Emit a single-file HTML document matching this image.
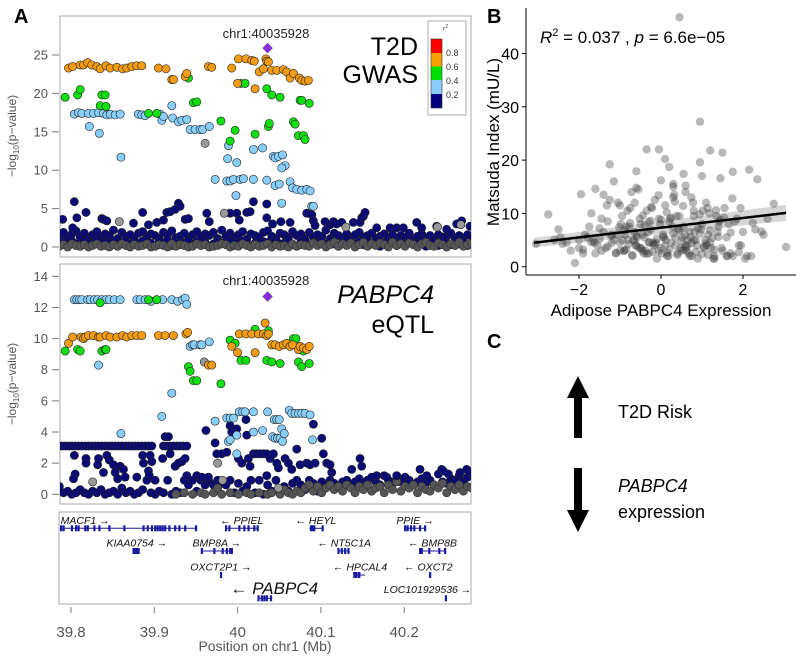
<!DOCTYPE html>
<html><head><meta charset="utf-8">
<style>
html,body{margin:0;padding:0;background:#fff;}
svg{display:block;font-family:"Liberation Sans",Arial,sans-serif;}
</style></head>
<body>
<svg id="fig" width="800" height="656" viewBox="0 0 800 656" xmlns="http://www.w3.org/2000/svg">
<defs>
<clipPath id="clipTop"><rect x="60" y="16" width="411" height="241"/></clipPath>
<clipPath id="clipMid"><rect x="60" y="264" width="411" height="240"/></clipPath>
</defs>
<text x="14" y="23" font-size="20" font-weight="bold">A</text>
<text x="487" y="23" font-size="20" font-weight="bold">B</text>
<text x="487" y="348" font-size="20" font-weight="bold">C</text>

<rect x="60" y="16" width="411" height="241" fill="none" stroke="#aaa" stroke-width="1"/>
<rect x="60" y="264" width="411" height="240" fill="none" stroke="#aaa" stroke-width="1"/>
<rect x="59" y="512" width="412" height="92" fill="none" stroke="#aaa" stroke-width="1"/>

<g id="gwasAxis"></g>
<g id="eqtlAxis"></g>
<text transform="translate(16,136) rotate(-90)" text-anchor="middle" font-size="12" fill="#555">−log<tspan font-size="8" dy="3">10</tspan><tspan dy="-3">(p−value)</tspan></text>
<text transform="translate(16,384) rotate(-90)" text-anchor="middle" font-size="12" fill="#555">−log<tspan font-size="8" dy="3">10</tspan><tspan dy="-3">(p−value)</tspan></text>

<g id="gwasPts" clip-path="url(#clipTop)"></g>
<g id="eqtlPts" clip-path="url(#clipMid)"></g>

<text x="266" y="38" text-anchor="middle" font-size="13" fill="#222">chr1:40035928</text>
<text x="266" y="285" text-anchor="middle" font-size="13" fill="#222">chr1:40035928</text>
<text x="418" y="55" text-anchor="end" font-size="25">T2D</text>
<text x="418" y="83" text-anchor="end" font-size="25">GWAS</text>
<text x="434" y="303" text-anchor="end" font-size="25" font-style="italic">PABPC4</text>
<text x="434" y="333" text-anchor="end" font-size="25">eQTL</text>

<g>
<rect x="428" y="21" width="38" height="94" fill="#fff" stroke="#999" stroke-width="0.8"/>
<text x="443" y="31" font-size="7" fill="#444">r<tspan font-size="5" dy="-3">2</tspan></text>
<rect x="431" y="39" width="11" height="14" fill="#ff0000"/>
<rect x="431" y="53" width="11" height="13.5" fill="#f5a000"/>
<rect x="431" y="66.5" width="11" height="13.5" fill="#00e000"/>
<rect x="431" y="80" width="11" height="14" fill="#87cefa"/>
<rect x="431" y="94" width="11" height="14" fill="#000080"/>
<rect x="431" y="39" width="11" height="69" fill="none" stroke="#333" stroke-width="0.6"/>
<text x="446" y="56" font-size="9" fill="#333">0.8</text>
<text x="446" y="70" font-size="9" fill="#333">0.6</text>
<text x="446" y="84" font-size="9" fill="#333">0.4</text>
<text x="446" y="98" font-size="9" fill="#333">0.2</text>
</g>

<g id="genes"></g>
<g id="xAxisA"></g>
<text x="265" y="651" text-anchor="middle" font-size="14" fill="#555">Position on chr1 (Mb)</text>

<g id="scatter"></g>
<text x="540" y="43" font-size="17"><tspan font-style="italic">R</tspan><tspan font-size="11" dy="-7">2</tspan><tspan dy="7"> = 0.037 , </tspan><tspan font-style="italic">p</tspan><tspan> = 6.6e−05</tspan></text>
<text transform="translate(499,142) rotate(-90)" text-anchor="middle" font-size="17">Matsuda Index (mU/L)</text>
<text x="661" y="316" text-anchor="middle" font-size="17">Adipose PABPC4 Expression</text>

<g>
<polygon points="578,376 589,398 582,398 582,438 574,438 574,398 567,398" fill="#000"/>
</g>
<text x="618" y="418" font-size="18">T2D Risk</text>
<g>
<polygon points="578,532 589,510 582,510 582,468 574,468 574,510 567,510" fill="#000"/>
</g>
<text x="618" y="492" font-size="18" font-style="italic">PABPC4</text>
<text x="618" y="518" font-size="18">expression</text>
</svg>
<script>
// ---------- Panel A data (positions in kb on chr1, values -log10 p) ----------
const gwasOrangePos=[39797,39802,39811,39815,39820,39825,39831,39835,39842,39847,39855,39862,39867,39873,39879,39885,39905,39914,39921,39923,39937,39939,39965,39969,39993,40001,40010,40017,40020,40034,40035,40037,40026,40031,40041,40047,40055,40059,40063,40067,40074,40077,40081,40085,40000,40021];
const gwasOrangeVal=[23.3,23.5,23.7,23.7,24.0,23.7,23.5,23.2,23.6,23.3,23.4,23.2,23.3,23.5,23.6,23.6,23.3,23.2,21.8,21.8,22.2,22.6,23.5,23.4,23.3,24.5,24.5,24.3,24.2,24.5,24.2,24.1,22.8,23.2,23.0,23.0,23.1,22.8,22.0,22.6,22.0,21.7,21.6,21.7,21.3,20.6];
const gwasGreenPos=[39793,39808,39811,39835,39837,39841,39842,39893,39903,39941,39947,39951,39980,39991,39997,40004,40009,40021,40035,40037,40038,40041,40051,40067,40069,40073,40075,40077,40079,40081,40086];
const gwasGreenVal=[19.5,19.8,20.5,18.4,19.8,19.8,18.3,17.4,17.4,22.0,18.8,18.9,16.4,13.8,15.2,21.3,21.3,14.7,20.6,15.7,16.1,19.8,19.5,16.3,16.0,14.5,19.1,19.1,14.5,14.0,18.7];
const gwasBluePos=[39804,39809,39813,39821,39822,39827,39833,39834,39839,39843,39847,39853,39859,39860,39881,39885,39889,39907,39909,39911,39921,39922,39929,39933,39939,39943,39949,39955,39958,39966,39973,39988,39989,39987,39991,39995,39998,39999,40003,40007,40019,40019,40030,40035,40043,40045,40049,40054,40057,40053,40045,40050,40053,40063,40066,40071,40077,40083,40087,40089,40091];
const gwasBlueVal=[17.3,17.5,17.4,17.4,15.7,17.4,17.5,14.8,17.4,17.2,17.3,17.2,17.3,11.7,17.3,17.2,17.1,17.3,16.5,17.0,18.4,16.8,16.3,16.5,16.6,15.3,15.3,15.3,15.3,15.7,8.8,11.5,13.2,8.6,8.6,8.8,6.7,11.0,8.8,8.9,8.8,12.7,12.9,8.7,11.8,11.6,11.8,12.0,10.6,10.3,8.0,8.2,5.7,8.5,7.7,7.5,7.4,7.5,7.3,5.3,5.3];
const gwasGreyPos=[39961,39984,39858,40130,40240,40268];
const gwasGreyVal=[13.5,4.4,3.3,2.6,2.6,2.9];
const gwasNavyPos=[39790,39804,39802,39807,39818,39837,39839,39843,39875,39886,39893,39903,39911,39915,39919,39925,39929,39931,39937,39941,39963,39966,39991,39999,40002,40011,40015,40019,40035,40035,40042,40052,40063,40083,40089,40091,40093,40105,40111,40115,40119,40125,40139,40147,40149,40151,40153,40167,40183,40191,40199,40215,40221,40239,40251,40263,40269,40279];
const gwasNavyVal=[3.6,5.9,2.5,3.8,4.5,3.7,3.6,3.4,3.1,4.5,2.9,3.2,3.5,4.5,4.6,4.9,5.7,5.3,3.6,3.7,4.4,3.3,4.4,4.4,3.5,4.5,4.6,5.9,5.6,3.8,3.0,3.3,3.2,4.4,4.2,3.4,2.8,3.3,2.9,3.3,3.0,3.2,3.2,3.2,3.8,4.0,4.5,2.5,2.5,2.5,2.5,3.2,2.5,2.7,2.3,3.0,3.4,2.7];
const gwasLeadPos=[40036]; const gwasLeadVal=[25.9];

const bandPos=[39786,39791,39796,39801,39806,39811,39816,39821,39826,39831,39836,39841,39846,39851,39856,39861,39866,39871,39876,39881,39886,39891,39896,39901,39906,39911,39916,39921,39926,39931,39936,39941,39946,39951,39956,39961,39966,39971,39976,39981,39986,39991,39996,40001,40006,40011,40016,40021,40026,40031,40036,40041,40046,40051,40056,40061,40066,40071,40076,40081,40086,40091,40096,40101,40106,40111,40116,40121,40126,40131,40136,40141,40146,40151,40156,40161,40166,40171,40176,40181,40186,40191,40196,40201,40206,40211,40216,40221,40226,40231,40236,40241,40246,40251,40256,40261,40266,40271,40276,40281];
const gwasBandA=[0.3,0.6,0.2,0.8,0.4,0.1,0.7,0.5,0.3,0.9,0.2,0.6,0.4,0.8,0.1,0.5,0.7,0.3,0.6,0.2,0.8,0.4,0.5,0.1,0.7,0.3,0.9,0.2,0.6,0.4,0.5,0.8,0.2,0.7,0.3,0.6,0.1,0.4,0.9,0.5,0.3,0.7,0.2,0.6,0.8,0.4,0.1,0.5,0.3,0.7,0.6,0.2,0.9,0.4,0.5,0.8,0.3,0.1,0.7,0.4,0.2,0.6,0.5,0.8,0.3,0.7,0.4,0.1,0.6,0.9,0.5,0.2,0.7,0.3,0.8,0.4,0.6,0.1,0.5,0.3,0.7,0.2,0.6,0.4,0.9,0.3,0.5,0.8,0.1,0.4,0.6,0.2,0.7,0.5,0.3,0.8,0.4,0.6,0.2,0.5];
const gwasBandB=[1.4,1.9,1.1,1.7,2.1,1.3,1.8,1.0,1.6,2.0,1.2,1.7,1.5,2.2,1.1,1.9,1.4,1.6,1.0,1.8,2.0,1.3,1.7,1.5,1.1,1.9,1.6,2.1,1.2,1.4,1.8,1.0,1.6,2.0,1.3,1.7,1.5,1.9,1.1,2.2,1.4,1.8,1.2,1.6,2.0,1.0,1.7,1.5,1.3,1.9,2.1,1.4,1.1,1.8,1.6,1.2,2.0,1.5,1.7,1.0,1.9,1.3,1.6,1.4,2.2,1.1,1.8,1.5,1.2,1.7,1.0,1.6,1.9,1.3,1.5,1.8,1.1,1.4,1.7,1.2,1.6,1.0,1.5,1.3,1.8,1.1,1.4,1.7,1.2,1.5,1.0,1.6,1.3,1.4,1.8,1.2,1.5,1.1,1.6,1.3];
const gwasBandGrey=[0.1,0.3,0.0,0.4,0.2,0.1,0.3,0.0,0.2,0.4,0.1,0.2,0.0,0.3,0.1,0.4,0.2,0.0,0.3,0.1,0.2,0.4,0.0,0.1,0.3,0.2,0.0,0.4,0.1,0.3,0.2,0.0,0.1,0.4,0.2,0.3,0.0,0.1,0.2,0.4,0.3,0.0,0.2,0.1,0.4,0.2,0.0,0.3,0.1,0.2,0.4,0.0,0.3,0.1,0.2,0.0,0.4,0.1,0.3,0.2,0.1,0.5,0.2,0.4,0.0,0.3,0.6,0.1,0.4,0.2,0.5,0.0,0.3,0.6,0.1,0.4,0.2,0.5,0.3,0.0,0.6,0.2,0.4,0.1,0.5,0.3,0.0,0.4,0.6,0.2,0.1,0.5,0.3,0.0,0.4,0.2,0.6,0.1,0.3,0.5];

const eqtlBluePos=[39804,39807,39810,39813,39820,39823,39828,39832,39837,39842,39846,39852,39859,39833,39879,39883,39889,39896,39903,39910,39921,39928,39934,39937,39939,39943,39946,39948,39955,39957,39966,39921,39909,39860,39973,39987,39991,39995,39989,39991,39999,40002,40006,40009,40019,40019,40030,40036,40044,40047,40050,40042,40045,40048,40051,40053,40054,40056,40062,40065,40069,40073,40077,40081,40087,40090,39999];
const eqtlBlueVal=[12.5,12.5,12.5,12.5,12.5,12.5,12.5,12.5,12.5,12.5,12.5,12.5,12.5,8.3,12.5,12.5,12.5,12.4,12.5,12.5,12.5,12.4,12.5,12.6,12.2,9.5,9.6,9.6,9.6,9.6,9.8,6.5,5.0,3.9,4.7,4.9,4.9,4.9,3.4,3.5,3.8,5.3,5.3,5.3,5.3,4.0,4.1,5.3,4.8,4.8,4.8,3.7,3.6,3.6,3.6,4.2,3.4,3.9,5.4,5.2,5.2,5.2,5.2,5.2,5.1,3.5,2.6];
const eqtlGreenPos=[39793,39808,39811,39835,39837,39841,39842,39893,39903,39941,39943,39947,39951,39980,39991,39997,40004,40010,40021,40035,40037,40041,40051,40067,40070,40073,40075,40077,40079,40086];
const eqtlGreenVal=[9.2,9.3,9.2,12.3,9.2,9.3,9.3,12.5,12.5,8.2,7.9,7.3,7.3,7.1,9.9,9.7,8.6,8.6,10.6,8.6,10.5,8.5,8.4,10.0,10.0,8.5,9.3,8.2,9.2,8.4];
const eqtlOrangePos=[39797,39802,39812,39815,39817,39821,39827,39833,39835,39842,39847,39855,39862,39867,39873,39879,39885,39905,39913,39923,39938,39940,39965,39969,39993,40000,40002,40010,40017,40021,40025,40031,40033,40035,40037,40041,40045,40050,40055,40059,40063,40066,40073,40075,40079,40083,40086];
const eqtlOrangeVal=[9.7,10.1,10.1,10.0,10.1,10.2,10.2,10.1,10.1,10.2,10.1,10.1,10.2,10.1,10.2,10.2,10.2,10.2,10.2,10.2,10.3,10.4,8.3,8.3,9.5,9.1,10.3,10.3,10.3,9.1,10.3,10.3,11.0,10.2,10.3,9.6,9.6,9.5,9.6,9.7,9.5,9.6,9.3,9.5,9.4,9.3,9.5];
const eqtlGreyPos=[39960,39826,39976,40049,39982];
const eqtlGreyVal=[8.5,0.8,2.0,0.4,0.9];
const eqtlRowPos=[39789,39793,39797,39801,39805,39809,39813,39817,39821,39825,39829,39833,39837,39841,39845,39849,39853,39857,39861,39865,39869,39873,39877,39881,39885,39889,39893,39897,39911,39915,39919,39923,39927,39931,39935,39939];
const eqtlRowVal=[3.1,3.1,3.1,3.1,3.1,3.1,3.1,3.1,3.1,3.1,3.1,3.1,3.1,3.1,3.1,3.1,3.1,3.1,3.1,3.1,3.1,3.1,3.1,3.1,3.1,3.1,3.1,3.1,3.1,3.1,3.1,3.1,3.1,3.1,3.1,3.1];
const eqtlNavyPos=[39804,39805,39803,39818,39818,39833,39832,39839,39843,39846,39851,39853,39856,39859,39863,39865,39879,39886,39887,39895,39897,39893,39894,39901,39910,39913,39917,39919,39925,39929,39933,39937,39939,39951,39957,39962,39965,39973,39975,39981,39987,39991,39993,39999,40001,40005,40010,40011,40013,40015,40019,40023,40027,40031,40035,40039,40043,40047,40049,40035,40057,40061,40065,40071,40075,40083,40087,40091,40093,40101,40103,40107,40111,40113,40137,40147,40149,40167,40179,40191,40219,40227,40245,40247,40253,40267,40275,40279];
const eqtlNavyVal=[2.5,1.3,1.0,2.3,2.0,2.3,1.9,1.4,2.5,2.2,1.9,1.4,1.0,1.8,1.6,1.1,1.1,2.5,2.0,2.5,2.1,1.5,1.2,0.9,2.3,3.7,3.7,2.6,1.8,2.0,2.1,2.3,1.2,1.2,1.1,4.1,1.1,3.3,2.6,2.6,2.7,4.4,4.0,4.2,2.3,2.0,4.8,3.8,2.3,1.8,2.6,2.6,2.6,2.6,2.6,2.3,2.6,2.0,1.7,1.2,2.3,2.0,1.6,2.9,1.9,2.0,1.9,4.5,2.0,3.6,2.6,2.0,1.9,1.4,1.6,2.3,1.8,1.2,1.1,1.2,1.6,1.2,1.6,1.5,1.3,1.4,1.6,1.4];
const eqtlLeadPos=[40036]; const eqtlLeadVal=[12.7];
const eqtlBandA=[0.5,0.1,0.2,0.0,0.1,0.3,0.1,0.0,0.2,0.1,0.3,0.0,0.1,0.2,0.0,0.4,0.1,0.2,0.0,0.1,0.3,0.9,0.1,0.0,0.2,0.1,0.9,0.0,0.2,0.1,0.9,0.6,0.9,0.2,0.9,0.6,0.8,0.6,0.9,0.7,0.6,0.9,0.1,0.7,0.2,0.5,0.9,0.1,0.9,0.0,0.6,0.2,0.9,0.1,0.5,0.2,0.7,0.9,0.6,0.3,0.9,0.7,0.2,0.8,0.6,0.9,0.7,0.5,0.8,0.9,0.6,0.8,1.0,0.7,0.9,1.1,0.8,0.6,1.2,0.9,0.7,1.0,0.8,1.1,0.9,0.6,0.8,1.0,0.7,0.9,0.6,1.3,0.8,0.7,1.0,0.9,1.2,0.8,1.1,1.3];
const eqtlBandGrey=[null,null,null,null,null,null,null,null,null,null,null,null,null,null,null,null,null,null,null,null,null,null,null,null,null,null,null,null,0.0,null,0.1,null,0.0,null,0.1,0.0,null,0.1,0.4,0.0,null,0.1,null,0.0,null,0.1,0.0,null,0.1,null,0.0,0.1,null,0.0,0.3,0.1,0.0,0.2,0.1,0.4,0.6,0.2,0.5,0.1,0.4,0.6,0.3,0.5,0.2,0.6,0.4,0.1,0.5,0.3,0.6,0.2,0.4,0.5,0.1,0.6,0.3,0.8,0.2,0.5,0.4,0.6,0.1,0.5,0.3,0.2,0.6,0.4,0.7,0.1,0.5,0.3,0.6,0.2,0.5,0.4];

const gwasTicks=[0,5,10,15,20,25];
const eqtlTicks=[0,2,4,6,8,10,12,14];
const mbTicks=[39.8,39.9,40,40.1,40.2];
const mbTickLabels=["39.8","39.9","40","40.1","40.2"];

// genes: start/end kb, exons kb, label centre kb, row
const geneNames=["MACF1","PPIEL","HEYL","PPIE","KIAA0754","BMP8A","NT5C1A","BMP8B","OXCT2P1","HPCAL4","OXCT2","PABPC4","LOC101929536"];
const geneStart=[39788,39986,40086,40200,39874,39956,40121,40218,39979,40140,40230,40024,40249];
const geneEnd=[39951,40024,40103,40226,39882,39994,40134,40250,39981,40153,40232,40041,40251];
const geneRow=[0,0,0,0,1,1,1,1,2,2,2,3,3];
const geneStrand=[1,-1,-1,1,1,1,-1,-1,1,-1,-1,-1,1];
const geneLabelPos=[39817,40005,40094,40213,39879,39975,40128,40234,39980,40147,40229,40044,40228];
const geneExons=[[39788,39791,39801,39806,39809,39817,39820,39828,39834,39846,39864,39887,39892,39897,39901,39904,39907,39910,39913,39918,39925,39930,39937,39950],[39986,39990,40002,40008,40013,40020,40024],[40088,40090,40092,40102],[40201,40204,40208,40212,40219,40225],[39875,39877,39879,39881],[39957,39972,39982,39987,39991,39993],[40121,40125,40129,40133],[40219,40221,40230,40242,40249],[39980],[40140,40142,40145,40146],[40231],[40025,40029,40032,40035,40040],[40250]];

// ---------- Panel B data ----------
const exprX=[0.45,0.95,-0.05,-0.35,1.2,1.5,0.1,0.95,-1.25,2.15,-0.6,0.2,1.75,0.55,1.0,-1.15,2.35,1.45,-1.6,-1.95,-2.75,3.05,2.75,2.6,2.5,2.3,1.9,-2.1,-3.05,-2.4,-2.2,-2.5,-2.3,-1.9,-1.8,-1.7,-1.55,-1.5,-1.4,-1.35,-1.3,-1.2,-1.1,-1.05,-1.0,-0.95,-0.9,-0.85,-0.8,-0.75,-0.7,-0.65,-0.6,-0.55,-0.5,-0.45,-0.4,-0.35,-0.3,-0.25,-0.2,-0.15,-0.1,-0.05,0.0,0.05,0.1,0.15,0.2,0.25,0.3,0.35,0.4,0.45,0.5,0.55,0.6,0.65,0.7,0.75,0.8,0.85,0.9,1.0,1.05,1.1,1.15,1.2,1.3,1.35,1.4,1.5,1.55,1.6,1.7,1.8,1.9,2.0,2.1,-1.75,-1.45,-1.25,-1.15,-0.98,-0.88,-0.72,-0.62,-0.52,-0.42,-0.32,-0.22,-0.12,-0.02,0.08,0.18,0.28,0.38,0.48,0.58,0.68,0.78,0.88,0.98,1.08,1.18,1.28,1.38,1.48,1.65,1.85,-1.62,-1.32,-1.08,-0.78,-0.58,-0.38,-0.18,0.02,0.22,0.42,0.62,0.82,1.02,1.22,1.42,1.62,-0.68,-0.28,0.32,0.72,1.12,-0.48,0.12,0.52,-2.0,-1.0,0.3,0.8,1.3,1.75,2.05,2.2,-0.9,0.6,
-1.9,-1.6,-1.4,-1.2,-1.0,-0.9,-0.8,-0.7,-0.6,-0.5,-0.4,-0.3,-0.2,-0.1,0.0,0.1,0.2,0.3,0.4,0.5,0.6,0.7,0.8,0.9,1.0,1.1,1.2,1.3,1.4,1.6,
-1.7,-1.5,-1.3,-1.1,-0.95,-0.85,-0.75,-0.65,-0.55,-0.45,-0.35,-0.25,-0.15,-0.05,0.05,0.15,0.25,0.35,0.45,0.55,0.65,0.75,0.85,0.95,1.05,1.15,1.25,1.45,1.7,1.95,
-2.6,-2.45,-2.0,-1.85,-1.65,-1.45,-1.22,-1.02,-0.82,-0.64,-0.44,-0.24,-0.06,0.14,0.34,0.54,0.74,0.94,1.14,1.34,1.54,1.74,1.94,2.24,2.45,-0.3,0.0,0.3,0.6,-0.6];
const matsudaY=[46.8,27.2,22.0,22.0,21.8,21.4,20.2,19.6,19.2,18.2,17.9,18.7,17.8,17.4,17.0,16.0,16.4,16.6,14.6,13.6,9.8,3.7,11.8,9.0,6.0,7.0,2.7,0.7,4.3,4.3,3.0,7.0,4.5,3.2,5.5,10.0,4.0,7.2,13.5,3.5,8.5,6.0,2.5,12.0,4.5,9.5,3.0,7.5,5.0,11.0,2.0,6.5,4.0,14.5,8.0,3.0,5.5,10.5,2.5,7.0,4.5,12.5,1.5,9.0,3.5,6.0,11.5,2.0,8.5,4.5,13.0,5.5,2.5,9.5,3.0,7.5,14.0,4.0,6.5,2.0,10.5,5.0,1.5,8.0,3.5,12.0,6.0,4.5,2.0,9.5,7.5,3.0,11.0,5.5,2.5,8.5,4.0,6.5,2.0,7.5,3.0,12.5,5.0,8.0,6.0,14.0,4.0,9.0,2.5,6.5,11.0,4.5,8.0,5.5,2.0,7.5,9.5,3.5,6.0,2.5,12.0,4.0,7.0,5.0,10.0,1.5,6.5,3.5,8.0,9.0,4.5,11.5,6.0,7.5,5.5,3.0,4.0,2.5,9.0,7.0,3.0,6.5,10.5,3.5,8.5,2.0,5.0,4.5,13.5,5.5,4.0,3.5,5.0,5.5,5.0,11.5,15.5,9.5,1.5,2.0,1.5,2.0,3.0,4.0,2.5,
2.5,6.5,4.5,3.0,6.8,4.2,2.2,5.8,3.4,7.8,4.6,2.8,5.2,8.8,4.0,3.2,6.2,2.2,4.8,3.6,2.0,5.0,7.2,2.4,4.4,6.8,3.2,5.6,2.0,4.6,
5.2,3.8,2.6,5.0,3.2,8.2,4.8,3.6,6.0,2.4,8.6,4.2,3.0,5.6,2.6,9.2,4.0,6.8,3.2,5.0,4.4,2.8,6.2,3.8,2.2,5.4,8.8,6.4,4.0,5.0,
5.5,3.5,6.0,4.8,9.0,5.8,7.4,10.5,12.0,9.6,11.2,13.4,10.2,12.2,11.4,13.0,9.8,11.0,10.6,9.2,12.8,11.0,8.2,6.6,8.4,16.2,15.0,15.2,14.8,13.0];
const fitX=[-3.1,3.05];
const fitY=[4.5,10.1];
const fitSeLo=[3.6,8.6];
const fitSeHi=[5.4,11.6];
const bYTicks=[0,10,20,30,40];
const bXTicks=[-2,0,2];
const bXTickLabels=["−2","0","2"];

// ---------- scales ----------
const NS="http://www.w3.org/2000/svg";
function kbX(kb){return 71+(kb-39800)*0.833;}
function gwasY(v){return 247-7.68*v;}
function eqtlY(v){return 494.3-15.57*v;}
function bX(v){return 661+41*v;}
function bY(v){return 266.7-5.33*v;}
function mk(tag,attrs,parent){const e=document.createElementNS(NS,tag);for(const k in attrs)e.setAttribute(k,attrs[k]);parent.appendChild(e);return e;}

function drawPts(parent,pos,vals,yf,fill,name,stroke){
  for(let i=0;i<pos.length;i++){
    if(vals[i]===null)continue;
    const c=mk('circle',{cx:kbX(pos[i]),cy:yf(vals[i]),r:4.1,fill:fill,stroke:stroke||'#222','stroke-width':0.6},parent);
    
    
  }
}
function drawDiamond(parent,pos,vals,yf){
  for(let i=0;i<pos.length;i++){
    const x=kbX(pos[i]),y=yf(vals[i]);
    const d=mk('polygon',{points:`${x},${y-5} ${x+5},${y} ${x},${y+5} ${x-5},${y}`,fill:'#8a2be2',stroke:'#555','stroke-width':0.5},parent);
    
    
  }
}
const NAVY='#0a0a78',BLUE='#87cefa',GREEN='#10e010',ORANGE='#f39c12',GREY='#999';
// GWAS
const gp=document.getElementById('gwasPts');
drawPts(gp,bandPos,gwasBandB,gwasY,NAVY,'gwas-point-navy');
drawPts(gp,bandPos,gwasBandA,gwasY,NAVY,'gwas-point-navy');
drawPts(gp,bandPos,gwasBandGrey,gwasY,'#555','gwas-point-grey','#333');
drawPts(gp,gwasNavyPos,gwasNavyVal,gwasY,NAVY,'gwas-point-navy');
drawPts(gp,gwasGreyPos,gwasGreyVal,gwasY,GREY,'gwas-point-grey');
drawPts(gp,gwasBluePos,gwasBlueVal,gwasY,BLUE,'gwas-point-lightblue');
drawPts(gp,gwasGreenPos,gwasGreenVal,gwasY,GREEN,'gwas-point-green');
drawPts(gp,gwasOrangePos,gwasOrangeVal,gwasY,ORANGE,'gwas-point-orange');
drawDiamond(gp,gwasLeadPos,gwasLeadVal,gwasY);
// eQTL
const ep=document.getElementById('eqtlPts');
drawPts(ep,bandPos,eqtlBandA,eqtlY,NAVY,'eqtl-point-navy');
drawPts(ep,bandPos,eqtlBandGrey,eqtlY,'#555','eqtl-point-grey','#333');
drawPts(ep,eqtlRowPos,eqtlRowVal,eqtlY,NAVY,'eqtl-point-navy');
drawPts(ep,eqtlNavyPos,eqtlNavyVal,eqtlY,NAVY,'eqtl-point-navy');
drawPts(ep,eqtlGreyPos,eqtlGreyVal,eqtlY,GREY,'eqtl-point-grey');
drawPts(ep,eqtlBluePos,eqtlBlueVal,eqtlY,BLUE,'eqtl-point-lightblue');
drawPts(ep,eqtlGreenPos,eqtlGreenVal,eqtlY,GREEN,'eqtl-point-green');
drawPts(ep,eqtlOrangePos,eqtlOrangeVal,eqtlY,ORANGE,'eqtl-point-orange');
drawDiamond(ep,eqtlLeadPos,eqtlLeadVal,eqtlY);

// y axes
function yAxis(gid,ticks,yf,name){
  const g=document.getElementById(gid);
  ticks.forEach(t=>{
    const y=yf(t);
    const l=mk('line',{x1:52,x2:59,y1:y,y2:y,stroke:'#777','stroke-width':1},g);
    
    
    const tx=mk('text',{x:48,y:y+4.5,'text-anchor':'end','font-size':13,fill:'#555'},g);
    tx.textContent=t;
    
    
  });
}
yAxis('gwasAxis',gwasTicks,gwasY,'gwas-y');
yAxis('eqtlAxis',eqtlTicks,eqtlY,'eqtl-y');

// x axis panel A
const xa=document.getElementById('xAxisA');
mbTicks.forEach((t,i)=>{
  const x=kbX(t*1000);
  const l=mk('line',{x1:x,x2:x,y1:607,y2:613,stroke:'#777','stroke-width':1},xa);
  
  
  const tx=mk('text',{x:x,y:637,'text-anchor':'middle','font-size':15,fill:'#555'},xa);
  tx.textContent=mbTickLabels[i];
  
  
});

// genes
const gg=document.getElementById('genes');
const rowLineY=[528.3,551,575,598.3], rowLabelY=[524,546.5,570.5,593];
geneNames.forEach((n,i)=>{
  const r=geneRow[i], y=rowLineY[r];
  const ln=mk('line',{x1:kbX(geneStart[i]),x2:kbX(geneEnd[i]),y1:y,y2:y,stroke:'#1a1aa0','stroke-width':1},gg);
  
  
  geneExons[i].forEach(e=>{
    const ex=mk('rect',{x:kbX(e)-1,y:y-3,width:2.2,height:6,fill:'#1a1aa0'},gg);
    
    
  });
  const big=(n==='PABPC4');
  const t=mk('text',{x:kbX(geneLabelPos[i]),y:rowLabelY[r]+(big?1:0),'text-anchor':'middle','font-size':big?17:10.5,'font-style':'italic',fill:'#111'},gg);
  t.textContent=geneStrand[i]>0?(n+' →'):('← '+n);
  
  
});

// panel B
const sg=document.getElementById('scatter');
const band=mk('polygon',{points:`${bX(fitX[0])},${bY(fitSeHi[0])} ${bX(fitX[1])},${bY(fitSeHi[1])} ${bX(fitX[1])},${bY(fitSeLo[1])} ${bX(fitX[0])},${bY(fitSeLo[0])}`,fill:'#bbb','fill-opacity':0.6},sg);


exprX.forEach((x,i)=>{
  const c=mk('circle',{cx:bX(x),cy:bY(matsudaY[i]),r:4.2,fill:'#333','fill-opacity':0.35},sg);
  
  
});
const fl=mk('line',{x1:bX(fitX[0]),y1:bY(fitY[0]),x2:bX(fitX[1]),y2:bY(fitY[1]),stroke:'#000','stroke-width':2.5},sg);


const ya=mk('line',{x1:526,x2:526,y1:8,y2:275,stroke:'#000','stroke-width':1},sg);


const xl=mk('line',{x1:526,x2:796,y1:275,y2:275,stroke:'#000','stroke-width':1},sg);


bYTicks.forEach(t=>{
  const y=bY(t);
  const l=mk('line',{x1:522,x2:526,y1:y,y2:y,stroke:'#000'},sg);
  
  
  const tx=mk('text',{x:519,y:y+6,'text-anchor':'end','font-size':16},sg);
  tx.textContent=t;
  
  
});
bXTicks.forEach((t,i)=>{
  const x=bX(t);
  const l=mk('line',{x1:x,x2:x,y1:275,y2:279,stroke:'#000'},sg);
  
  
  const tx=mk('text',{x:x,y:295,'text-anchor':'middle','font-size':16},sg);
  tx.textContent=bXTickLabels[i];
  
  
});
</script>
</body></html>
